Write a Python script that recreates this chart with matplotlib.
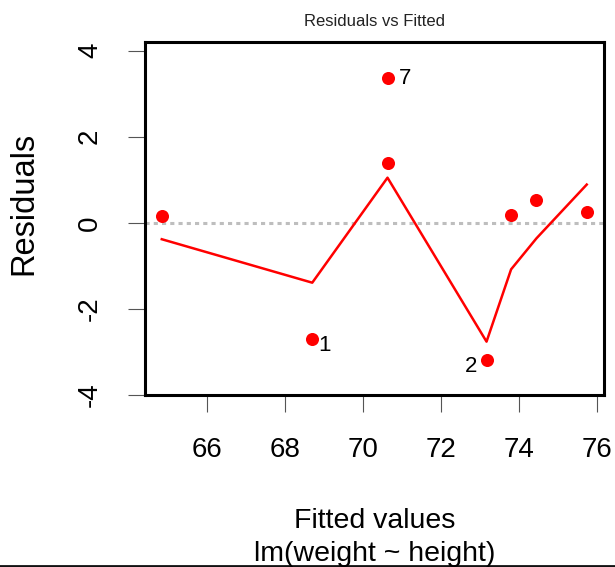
import matplotlib
matplotlib.use("Agg")
import matplotlib.pyplot as plt
from matplotlib.lines import Line2D
import numpy as np

plt.rcParams['font.family'] = ['Liberation Sans', 'DejaVu Sans']
plt.rcParams['axes.unicode_minus'] = False

# data
fitted = [64.84, 68.70, 70.63, 70.63, 73.17, 73.80, 74.45, 75.74]
residuals = [0.16, -2.70, 3.36, 1.38, -3.19, 0.19, 0.54, 0.26]
smooth_x = [64.84, 68.70, 70.63, 73.17, 73.80, 74.45, 75.74]
smooth_y = [-0.38, -1.39, 1.05, -2.76, -1.08, -0.36, 0.89]
id_labels = ["7", "1", "2"]
id_index = [2, 1, 4]
id_offsets = [(18, 0), (12, -6.5), (-15, -6)]
x_ticks = [66, 68, 70, 72, 74, 76]
y_ticks = [-4, -2, 0, 2, 4]

W, H = 615, 567
fig = plt.figure(figsize=(W / 100, H / 100), dpi=100)
ax = fig.add_axes([145 / W, 1 - 395 / H, (603.5 - 145) / W, (395 - 41.7) / H])

ax.axhline(0, color='#bebebe', lw=2.2, ls=(0, (1.35, 1.35)), zorder=1)
ax.plot(smooth_x, smooth_y, color='red', lw=1.8, zorder=2)
ax.plot(fitted, residuals, 'o', color='red', ms=9.4, mec='none', zorder=3)

for lab, i, off in zip(id_labels, id_index, id_offsets):
    ax.annotate(lab, (fitted[i], residuals[i]), xytext=off, textcoords='offset pixels',
                ha='center', va='center', fontsize=16, color='black')

ax.set_xlim(64.41, 76.17)
ax.set_ylim(-4.0, 4.21)
ax.set_xticks(x_ticks)
ax.set_yticks(y_ticks)
ax.tick_params(axis='both', length=12.2, width=0.8, color='#555555', labelsize=20,
               pad=18, labelcolor='black')
plt.setp(ax.get_yticklabels(), rotation=90, va='center')
for s in ax.spines.values():
    s.set_linewidth(2.2)
    s.set_color('black')

fig.text(375 / W, 1 - 21.7 / H, "Residuals vs Fitted", ha='center', va='center',
         fontsize=12, color='#222222')
fig.text(24 / W, 1 - 203 / H, "Residuals", ha='center', va='center', rotation=90,
         fontsize=23.5, color='black')
fig.text(375 / W, 1 - 528 / H, "Fitted values", ha='center', va='baseline',
         fontsize=20.5, color='black')
fig.text(375 / W, 1 - 561 / H, "lm(weight ~ height)", ha='center', va='baseline',
         fontsize=20.5, color='black')

fig.add_artist(Line2D([0, 1], [1 - 565.8 / H, 1 - 565.8 / H], transform=fig.transFigure,
                      color='#111111', lw=2))

fig.savefig("out.png", dpi=100)
